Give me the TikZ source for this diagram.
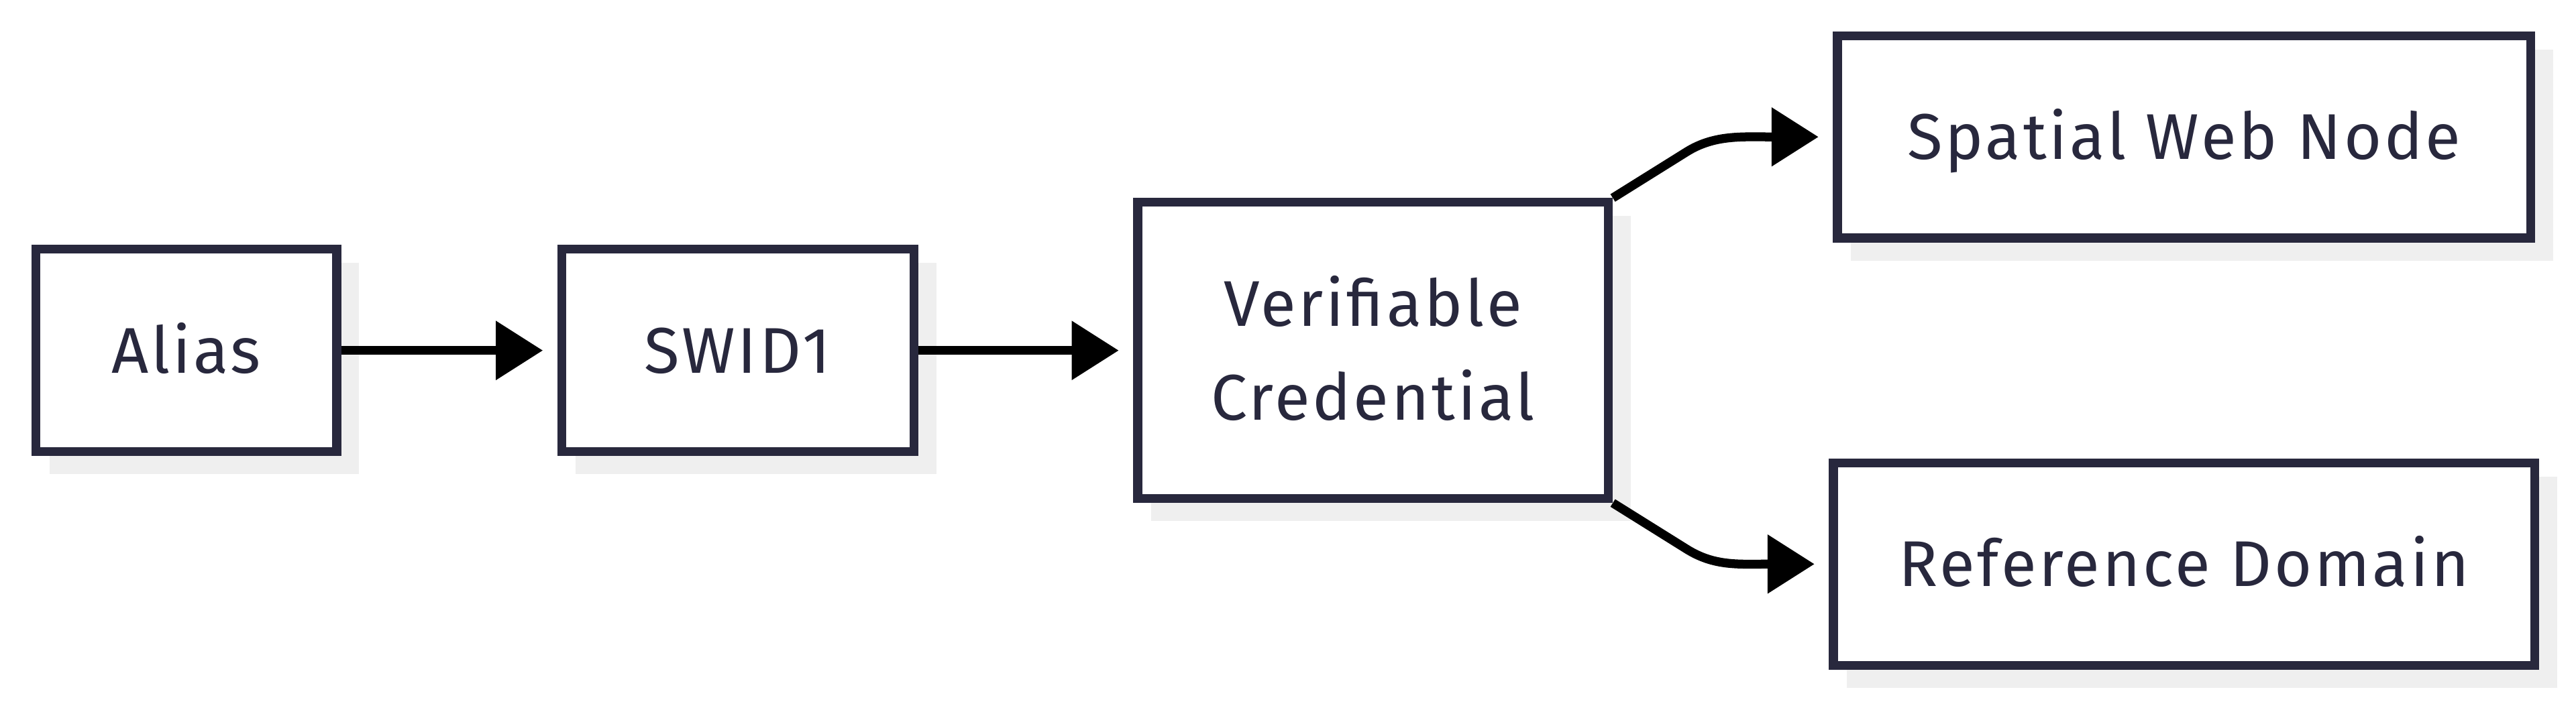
\documentclass[tikz,border=0pt]{standalone}
\usepackage{fontspec}
\setmainfont{Fira Sans}[LetterSpace=4]
\usepackage{xcolor}
\usepackage{tikz}
\usetikzlibrary{arrows.meta}
\definecolor{navy}{HTML}{28283D}
\definecolor{shade}{HTML}{EFEFEF}

\begin{document}
\begin{tikzpicture}[
        block/.style={draw=navy, line width=1.54pt, fill=white, text=navy, inner sep=0pt,
            font=\fontsize{11.2}{16.25}\selectfont, text height=0.272cm, text depth=0pt,
            preaction={draw=shade, fill=shade, transform canvas={shift={(0.11cm,-0.11cm)}}}},
        link/.style={line width=1.54pt, black, shorten >=0.088cm,
            -{Triangle[length=0.286cm, width=0.347cm]}}
    ]
        \useasboundingbox (0,0) rectangle (15.68,4.2834);

        \node[block, minimum width=1.832cm, minimum height=1.232cm] (alias) at (1.1335, 2.149) {Alias};
        \node[block, minimum width=2.1425cm, minimum height=1.232cm] (swid) at (4.4908, 2.149) {SWID1};
        \node[block, minimum width=2.865cm, minimum height=1.8036cm, align=center,
            text height=0.844cm] (vc) at (8.3573, 2.149) {Verifiable\\Credential};
        \node[block, minimum width=4.22cm, minimum height=1.232cm] (swn) at (13.294, 3.4496) {Spatial Web Node};
        \node[block, minimum width=4.269cm, minimum height=1.232cm] (rd) at (13.294, 0.8481) {Reference Domain};

        \draw[link] (alias) -- (swid);
        \draw[link] (swid) -- (vc);
        \draw[link] (vc.north east) -- ++(32:0.53) .. controls +(32:0.2) and +(-0.55,0) .. (swn.west);
        \draw[link] (vc.south east) -- ++(-32:0.53) .. controls +(-32:0.2) and +(-0.55,0) .. (rd.west); % fork
\end{tikzpicture}
\end{document}
